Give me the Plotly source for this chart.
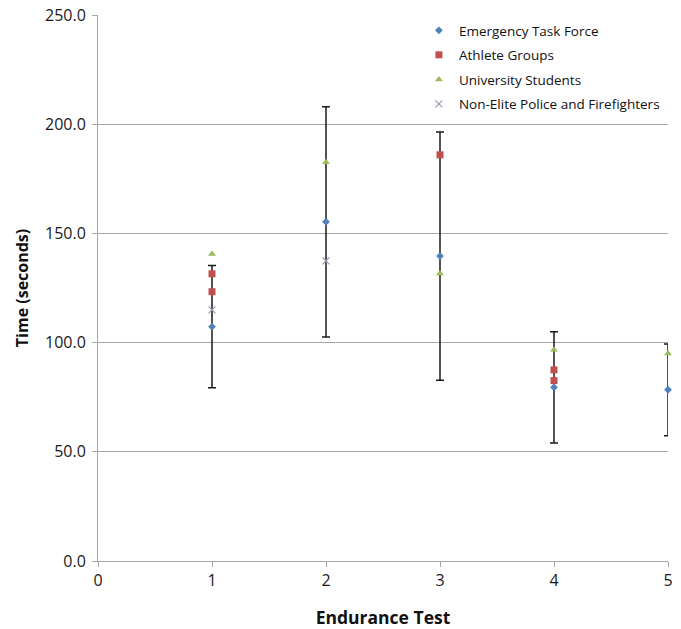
import plotly.graph_objects as go

# Data
etf_x = [1, 2, 3, 4, 5]
etf_y = [107.3, 155.3, 139.6, 79.5, 78.4]
etf_err = [28.0, 52.7, 56.8, 25.5, 21.0]

athlete_x = [1, 1, 3, 4, 4]
athlete_y = [131.5, 123.3, 186.0, 87.5, 82.6]

uni_x = [1, 2, 3, 4, 5]
uni_y = [140.6, 182.6, 131.6, 96.7, 95.0]

police_x = [1, 2]
police_y = [115.0, 137.4]

x_ticks = [0, 1, 2, 3, 4, 5]
y_ticks = [0, 50, 100, 150, 200, 250]

font_family = "Open Sans"

fig = go.Figure()
fig.add_trace(go.Scatter(
    x=etf_x, y=etf_y, mode="markers", name="Emergency Task Force",
    marker=dict(symbol="diamond", size=6, color="#4F81BD"),
    error_y=dict(type="data", array=etf_err, visible=True, color="#1a1a1a",
                 thickness=1.5, width=4),
    cliponaxis=False, legendgroup="a",
))
fig.add_trace(go.Scatter(
    x=athlete_x, y=athlete_y, mode="markers", name="Athlete Groups",
    marker=dict(symbol="square", size=7, color="#C0504D"),
    cliponaxis=False, legendgroup="b",
))
fig.add_trace(go.Scatter(
    x=uni_x, y=uni_y, mode="markers", name="University Students",
    marker=dict(symbol="triangle-up", size=7, color="#9BBB59"),
    cliponaxis=False, legendgroup="c",
))
fig.add_trace(go.Scatter(
    x=police_x, y=police_y, mode="markers", name="Non-Elite Police and Firefighters",
    marker=dict(symbol="x-thin-open", size=7, color="#9a9ab8",
                line=dict(width=1.2, color="#9a9ab8")),
    cliponaxis=False, legendgroup="d",
))

fig.update_layout(
    width=681, height=629,
    margin=dict(l=98, r=13, t=15, b=68, autoexpand=False),
    paper_bgcolor="white", plot_bgcolor="white",
    font=dict(family=font_family, size=14, color="#1a1a1a"),
    showlegend=True,
    legend=dict(x=0.563, y=1.0, xanchor="left", yanchor="top",
                bgcolor="rgba(255,255,255,0)", font=dict(size=13.5, color="#111111"),
                tracegroupgap=4),
    xaxis=dict(range=[0, 5], tickvals=x_ticks, ticktext=[str(v) for v in x_ticks],
               showgrid=False, zeroline=False, showline=True, linecolor="#a6a6a6",
               linewidth=1, ticks="outside", ticklen=5, tickcolor="#a6a6a6",
               automargin=False,
               tickfont=dict(size=16, color="#1a1a1a"),
               title=dict(text="<b>Endurance Test</b>", font=dict(size=17.5, color="#111111"),
                          standoff=24)),
    yaxis=dict(range=[0, 250], tickvals=y_ticks, ticktext=[f"{v:.1f}" for v in y_ticks],
               showgrid=True, gridcolor="#a6a6a6", gridwidth=1, zeroline=False,
               showline=True, linecolor="#a6a6a6", linewidth=1,
               ticks="outside", ticklen=5, tickcolor="#a6a6a6",
               ticklabelstandoff=3,
               automargin=False,
               tickfont=dict(size=16, color="#1a1a1a"),
               title=dict(text="<b>Time (seconds)</b>", font=dict(size=16, color="#111111"),
                          standoff=12)),
)

fig.write_html("out.html", config={"displayModeBar": False},
               post_script="document.body.style.margin='0';")
